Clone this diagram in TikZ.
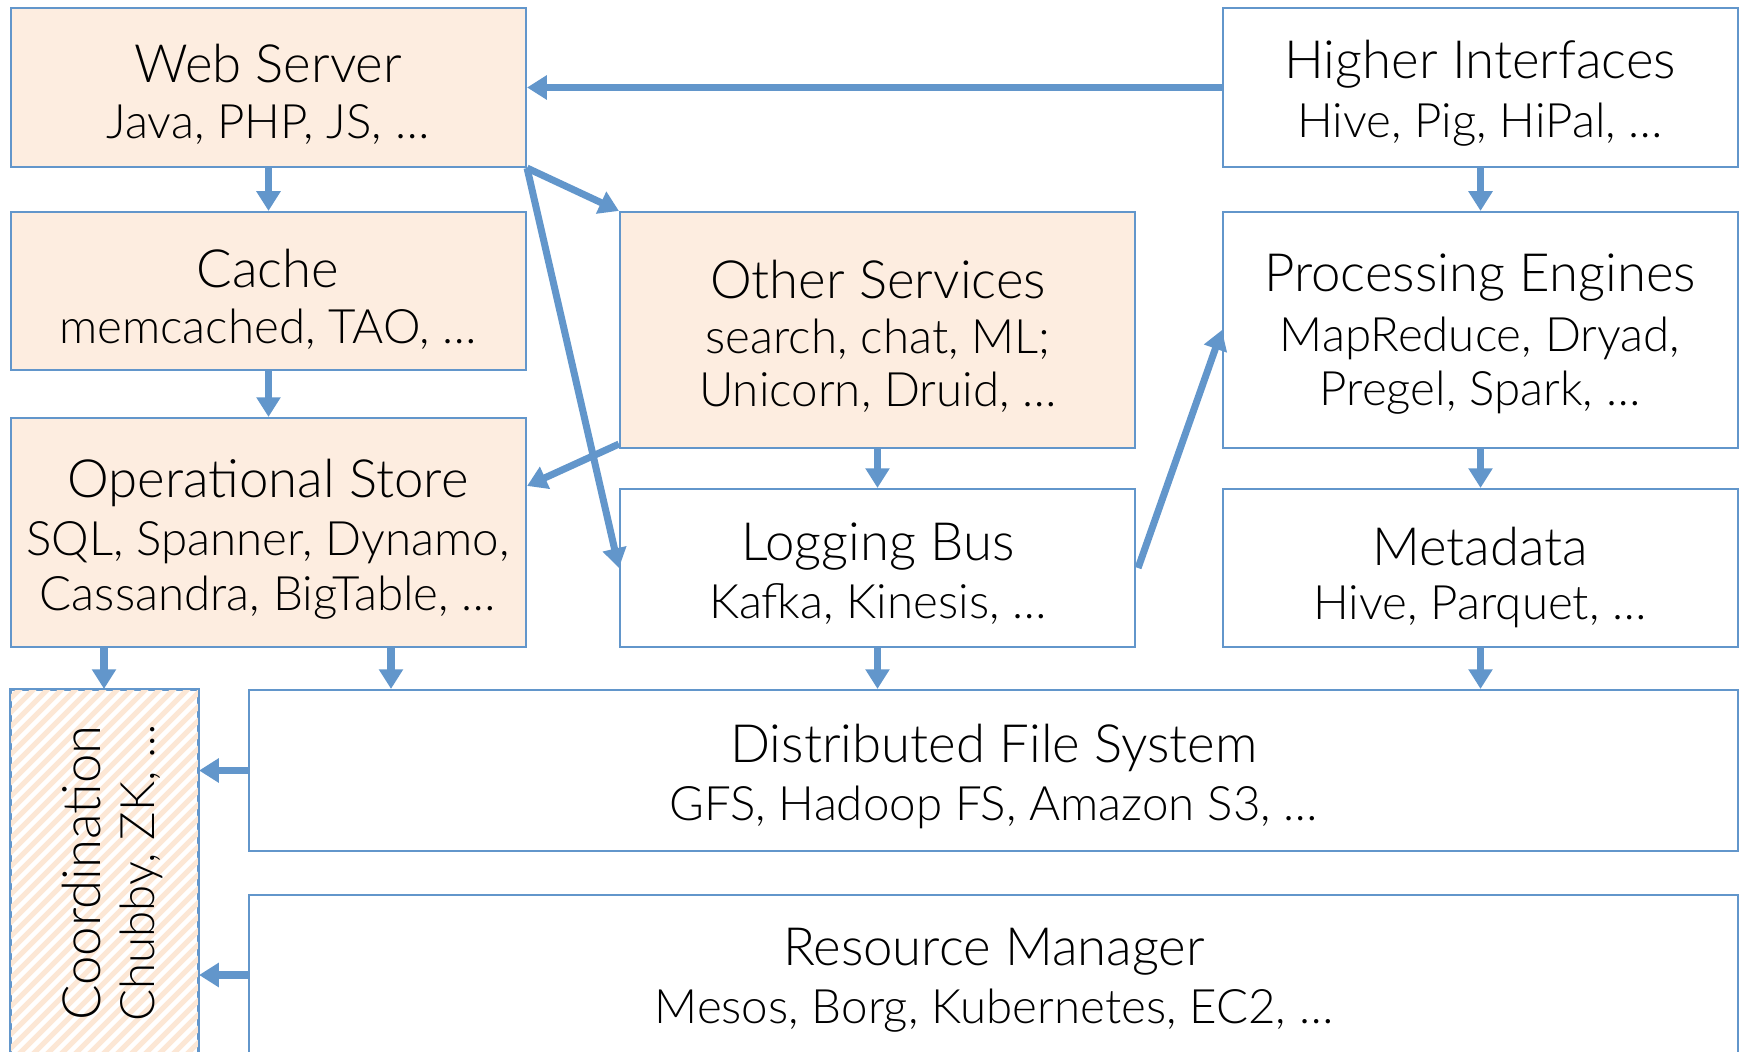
\documentclass[tikz,border=0pt]{standalone}
\usepackage{fontspec}
\setmainfont{Lato}[UprightFont=* Light]
\usetikzlibrary{arrows.meta,fit,calc}
\definecolor{bblue}{RGB}{98,150,203}
\definecolor{peach}{RGB}{253,237,224}
\definecolor{hatchc}{RGB}{252,231,213}
\tikzset{
  box/.style={draw=bblue, line width=0.6pt, inner sep=0pt},
  pbox/.style={box, fill=peach},
  arr/.style={draw=bblue, line width=2pt, -{Triangle[length=5.6pt,width=6.6pt]}},
  ttl/.style={font=\fontsize{15}{18}\selectfont, inner sep=0pt},
  sub/.style={font=\fontsize{13.5}{16}\selectfont, inner sep=0pt},
  hatchline/.style={draw=hatchc, line width=1.45pt}
}
\begin{document}
\begin{tikzpicture}[x=0.01cm,y=-0.01cm]
\clip (0,0) rectangle (1743,1052);
% boxes
\node[pbox, fit={(11,8) (526,167)}] (ws) {};
\node[box, fit={(1223,8) (1738,167)}] (hi) {};
\node[pbox, fit={(11,212) (526,370)}] (ca) {};
\node[pbox, fit={(620,212) (1135,448)}] (os) {};
\node[box, fit={(1223,212) (1738,448)}] (pe) {};
\node[pbox, fit={(11,418) (526,647)}] (op) {};
\node[box, fit={(620,489) (1135,647)}] (lb) {};
\node[box, fit={(1223,489) (1738,647)}] (md) {};
\node[box, fit={(249,690) (1738,851)}] (dfs) {};
\node[box, fit={(249,895) (1738,1055)}] (rm) {};
% coordination (hatched)
\node[box, fit={(11,690) (198,1060)}] (co) {};
\begin{scope}
\clip (co.south west) rectangle (co.north east);
\foreach \i in {-400,-386,...,220} \draw[hatchline] (11+\i,1070) -- ++(400,-400);
\end{scope}
\draw[bblue, line width=0.6pt] (co.south west) rectangle (co.north east);
% texts
\node[ttl] (t1) at (268,64) {Web Server};
\node[sub] (s1) at (268,125) {Java, PHP, JS, …};
\node[ttl] (t2) at (1480,64) {Higher Interfaces};
\node[sub] (s2) at (1480,125) {Hive, Pig, HiPal, …};
\node[ttl] (t3) at (268,269) {Cache};
\node[sub] (s3) at (268,329) {memcached, TAO, …};
\node[ttl] (t4) at (878,280) {Other Services};
\node[sub] (s4a) at (878,339) {search, chat, ML;};
\node[sub] (s4b) at (878,392) {Unicorn, Druid, …};
\node[ttl] (t5) at (1480,278) {Processing Engines};
\node[sub] (s5a) at (1480,338) {MapReduce, Dryad,};
\node[sub] (s5b) at (1480,393) {Pregel, Spark, …};
\node[ttl] (t6) at (268,483) {Operational Store};
\node[sub] (s6a) at (268,543) {SQL, Spanner, Dynamo,};
\node[sub] (s6b) at (268,598) {Cassandra, BigTable, …};
\node[ttl] (t7) at (878,547) {Logging Bus};
\node[sub] (s7) at (878,604) {Kafka, Kinesis, …};
\node[ttl] (t8) at (1480,547) {Metadata};
\node[sub] (s8) at (1480,607) {Hive, Parquet, …};
\node[ttl] (t9) at (994,748) {Distributed File System};
\node[sub] (s9) at (994,807) {GFS, Hadoop FS, Amazon S3, …};
\node[ttl] (t10) at (994,952) {Resource Manager};
\node[sub] (s10) at (994,1011) {Mesos, Borg, Kubernetes, EC2, …};
\node[ttl, rotate=90] (t11) at (82,873) {Coordination};
\node[sub, rotate=90] (s11) at (141,873) {Chubby, ZK, …};
% helper coordinates
\coordinate (xc) at (104,0);
\coordinate (xd) at (391,0);
% arrows
\draw[arr] (hi.west) -- (ws.east);
\draw[arr] (ws.south) -- (ca.north);
\draw[arr] (ca.south) -- (op.north);
\draw[arr] (ws.south east) -- (os.north west);
\draw[arr] (ws.south east) -- (lb.west);
\draw[arr] ($(os.south west)+(0,-5)$) -- ($(op.north east)+(0,69)$);
\draw[arr] (os.south) -- (lb.north);
\draw[arr] ($(lb.east)+(2,0)$) -- (pe.west);
\draw[arr] (hi.south) -- (pe.north);
\draw[arr] (pe.south) -- (md.north);
\draw[arr] (op.south -| xc) -- (co.north -| xc);
\draw[arr] (op.south -| xd) -- (dfs.north -| xd);
\draw[arr] (lb.south) -- (dfs.north -| lb.south);
\draw[arr] (md.south) -- (dfs.north -| md.south);
\draw[arr] (dfs.west) -- (co.east |- dfs.west);
\draw[arr] (rm.west) -- (co.east |- rm.west);
\end{tikzpicture}
\end{document}
